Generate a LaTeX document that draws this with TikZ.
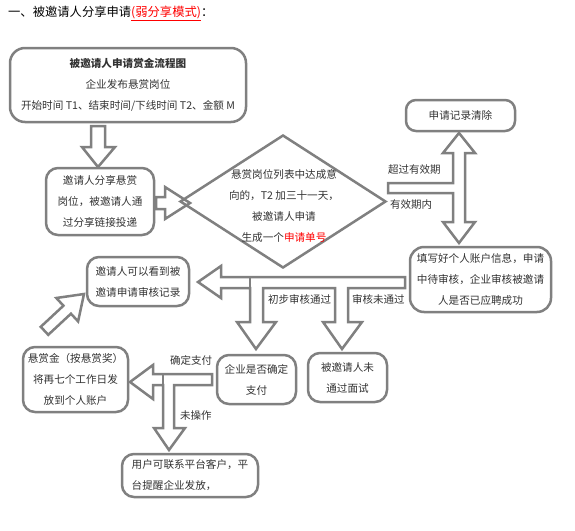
\documentclass[tikz,border=0pt]{standalone}
\usepackage{fontspec}
\setmainfont{Noto Sans CJK SC}
\usetikzlibrary{shapes.geometric}
\definecolor{lc}{HTML}{808080}
\definecolor{tc}{HTML}{333333}
\begin{document}
\begin{tikzpicture}[x=1pt,y=-1pt,
  box/.style={draw=lc, line width=2.5pt, fill=white, rounded corners=12pt, align=center, text=tc,
    font=\fontsize{10.6}{21}\selectfont, inner sep=0pt},
  blk/.style={draw=lc, line width=2.5pt, fill=white, line join=miter},
  seam/.style={draw=lc, line width=2.5pt},
  lbl/.style={text=tc, font=\fontsize{10.5}{12}\selectfont, inner sep=0pt, anchor=west}]
\useasboundingbox[fill=white] (0,0) rectangle (575,530);

% title
\node[anchor=west, inner sep=0pt, font=\fontsize{12.3}{14}\selectfont] (title) at (8,13)
  {一、被邀请人分享申请\textcolor{red}{\underline{(弱分享模式)}}：};

% boxes
\node[box, minimum width=236pt, minimum height=74pt, rounded corners=15pt] (b1) at (128,85)
  {\textbf{被邀请人申请赏金流程图}\\企业发布悬赏岗位\\开始时间 T1、结束时间/下线时间 T2、金额 M};
\node[box, minimum width=108pt, minimum height=67pt] (b2) at (100,201.5)
  {邀请人分享悬赏\\岗位，被邀请人通\\过分享链接投递};
\node[box, minimum width=109pt, minimum height=31pt, rounded corners=10pt] (b3) at (460.5,115.5)
  {申请记录清除};
\node[box, minimum width=141pt, minimum height=65pt, rounded corners=14pt] (b4) at (480.5,279.5)
  {填写好个人账户信息，申请\\中待审核，企业审核被邀请\\人是否已应聘成功};
\node[box, minimum width=102pt, minimum height=49pt] (b5) at (138,281.5)
  {邀请人可以看到被\\邀请申请审核记录};
\node[box, minimum width=79pt, minimum height=49pt] (b6) at (256.5,379.5)
  {企业是否确定\\支付};
\node[box, minimum width=79pt, minimum height=49pt] (b7) at (347.5,377.5)
  {被邀请人未\\通过面试};
\node[box, minimum width=105pt, minimum height=65pt] (b8) at (75.5,379.5)
  {悬赏金（按悬赏奖）\\将再七个工作日发\\放到个人账户};
\node[box, minimum width=136pt, minimum height=43pt, align=left] (b9) at (190,475.5)
  {用户可联系平台客户，平\\台提醒企业发放，};

% block arrows
\draw[blk] (91,126) -- (105,126) -- (105,147) -- (115,147) -- (98,167) -- (82,147) -- (91,147) -- cycle;
\draw[blk] (156,197) -- (165,197) -- (165,187) -- (190,203) -- (165,219) -- (165,209) -- (156,209) -- cycle;
\draw[blk] (459,133) -- (475,153) -- (465,153) -- (465,222) -- (475,222) -- (459,243) -- (443,222)
  -- (453,222) -- (453,193) -- (388,193) -- (388,183) -- (453,183) -- (453,153) -- (443,153) -- cycle;
\draw[blk] (198,282) -- (221,266) -- (221,277) -- (405,277) -- (405,288) -- (348,288) -- (348,322)
  -- (362,322) -- (342,349) -- (323,322) -- (335,322) -- (335,288) -- (263,288) -- (263,322)
  -- (276,322) -- (256,349) -- (237,322) -- (250,322) -- (250,288) -- (221,288) -- (221,298) -- cycle;
\draw[seam] (250,277) -- (250,288);
\draw[blk] (130,382) -- (153,365) -- (153,374) -- (212,374) -- (212,385) -- (174,385) -- (174,428)
  -- (185,428) -- (169,450) -- (154,428) -- (163,428) -- (163,385) -- (153,385) -- (153,399) -- cycle;
\draw[seam] (163,374) -- (163,385);
\draw[blk] (84,294) -- (78.1,321.4) -- (70.95,313.7) -- (48.25,334.8) -- (40.75,326.8)
  -- (63.45,305.7) -- (56.3,298.0) -- cycle;

% diamond (drawn over the arrow tip)
\node[diamond, draw=lc, line width=2.5pt, minimum width=206pt, minimum height=133pt, inner sep=0pt,
  line join=miter] (dm) at (283,201.5) {};
\node[align=center, text=tc, font=\fontsize{10.6}{20.7}\selectfont, inner sep=0pt] (dt) at (284,206)
  {悬赏岗位列表中达成意\\向的，T2 加三十一天，\\被邀请人申请\\生成一个\textcolor{red}{申请单号}};

% labels
\node[lbl] (l1) at (388,170) {超过有效期};
\node[lbl] (l2) at (390,205) {有效期内};
\node[lbl] (l3) at (268,299) {初步审核通过};
\node[lbl] (l4) at (352,299) {审核未通过};
\node[lbl] (l5) at (170,360) {确定支付};
\node[lbl] (l6) at (180,416) {未操作};
\end{tikzpicture}
\end{document}
